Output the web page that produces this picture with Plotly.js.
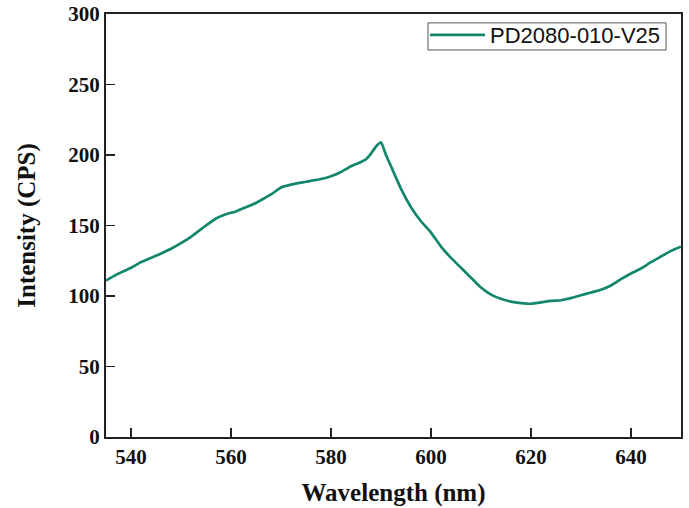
<!DOCTYPE html>
<html><head><meta charset="utf-8">
<script src="https://cdn.plot.ly/plotly-3.0.1.min.js"></script>
<style>html,body{margin:0;padding:0;background:#fff}#c{width:689px;height:508px}</style>
</head><body><div id="c"></div>
<script>
const seriesName = "PD2080-010-V25";
const wavelength = [535,537,540,542,545,548,550,552,555,557,559,561,563,565,566,568,570,572,575,578,580,582,584,586,587,588,589,590,591,592,594,596,598,600,602,604,606,608,610,612,614,616,618,620,622,624,626,628,630,632,634,636,638,640,642,644,646,648,650];
const intensity  = [111,115,120,124,128.5,133.5,137.5,142,150,155,158,160,163,166,168,172,177,179,181,183,185,188,192,195,197,201,206,209,200,192,176,163,153,145,135,127,120,113,106,101,98,96,95,94.5,95.5,96.5,97,98.5,100.5,102.5,104.5,107.5,112,116,119.5,124,128,132,135];
const xTicks = [540,560,580,600,620,640];
const yTicks = [0,50,100,150,200,250,300];

const tickFont = {family:"Liberation Serif, Times New Roman, serif", size:21, color:"#111"};
const titleFont = {family:"Liberation Serif, Times New Roman, serif", size:25, color:"#111"};

Plotly.newPlot("c", [{
  x: wavelength, y: intensity, type:"scatter", mode:"lines", name: seriesName,
  line:{color:"#12876c", width:2.7, shape:"spline", smoothing:0.4}
}], {
  width:689, height:508,
  margin:{l:106, r:8, t:14, b:71},
  paper_bgcolor:"#fff", plot_bgcolor:"#fff",
  showlegend:true,
  legend:{x:0.974, y:1.0, xanchor:"right", yanchor:"top", borderwidth:0,
    bgcolor:"rgba(0,0,0,0)", font:{family:"Liberation Sans, Arial, sans-serif", size:22, color:"#111"},
    itemwidth:55, tracegroupgap:0},
  shapes:[{type:"rect", xref:"paper", yref:"paper", x0:0.56, x1:0.974, y0:0.915, y1:0.979,
    line:{color:"#555", width:1}, fillcolor:"rgba(0,0,0,0)", layer:"below"}],
  xaxis:{range:[535,650], tickvals:xTicks, ticktext:xTicks.map(String), ticks:"inside", ticklen:9, tickwidth:1.5,
    tickcolor:"#222", showline:true, linecolor:"#222", linewidth:2, mirror:true, showgrid:false, zeroline:false,
    tickfont:tickFont, title:{text:"<b>Wavelength (nm)</b>", font:titleFont, standoff:15}},
  yaxis:{range:[0,300], tickvals:yTicks, ticktext:yTicks.map(String), ticks:"inside", ticklen:9, tickwidth:1.5,
    tickcolor:"#222", showline:true, linecolor:"#222", linewidth:2, mirror:true, showgrid:false, zeroline:false,
    tickfont:tickFont, title:{text:"<b>Intensity (CPS)</b>", font:titleFont, standoff:26}}
}, {displayModeBar:false, staticPlot:true}).then(()=>{
  document.querySelectorAll(".xtick text, .ytick text").forEach(t=>t.style.fontWeight="bold");
});
</script></body></html>
